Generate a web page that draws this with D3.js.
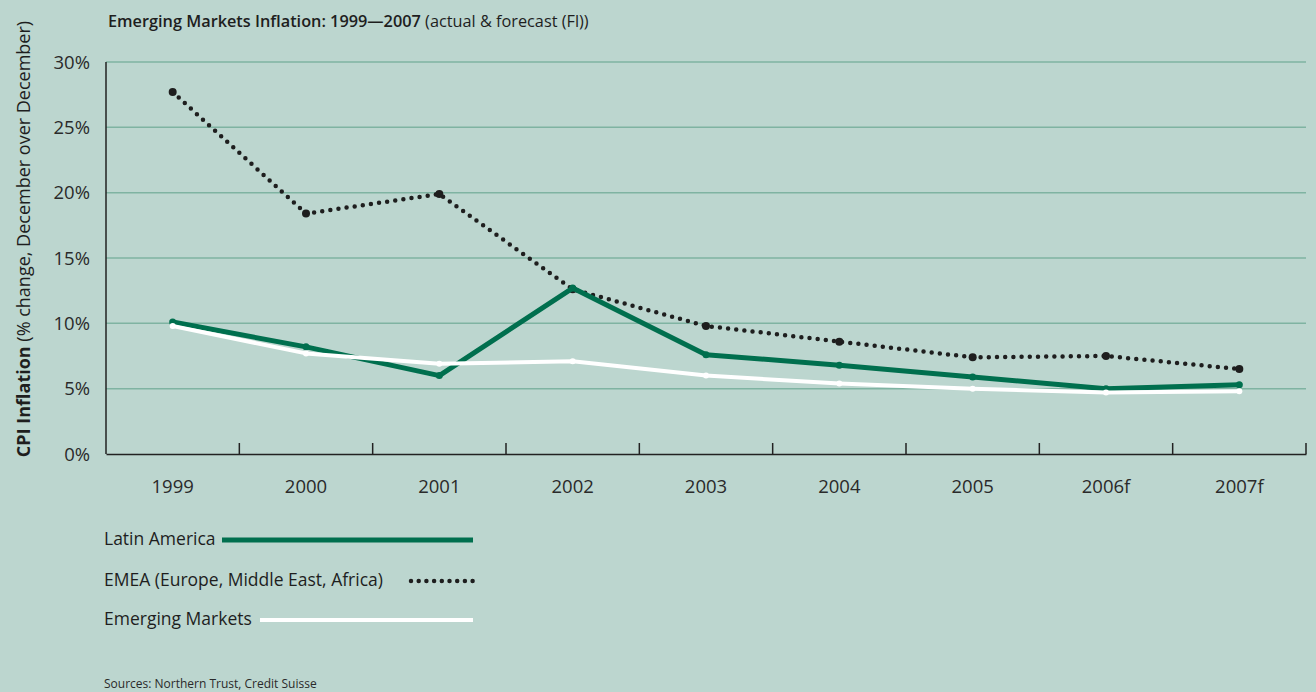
<!DOCTYPE html>
<html>
<head>
<meta charset="utf-8">
<script src="https://cdn.jsdelivr.net/npm/d3@7"></script>
<style>
  body { margin: 0; background: #bcd6cf; }
  svg { display: block; font-family: "Open Sans", sans-serif; }
</style>
</head>
<body>
<div id="chart"></div>
<script>
// data
const years = ["1999", "2000", "2001", "2002", "2003", "2004", "2005", "2006f", "2007f"];
const latinAmerica = [10.1, 8.2, 6.0, 12.7, 7.6, 6.8, 5.9, 5.0, 5.3];
const emea = [27.7, 18.4, 19.9, 12.6, 9.8, 8.6, 7.4, 7.5, 6.5];
const emergingMarkets = [9.8, 7.7, 6.9, 7.1, 6.0, 5.4, 5.0, 4.7, 4.8];
const yTicks = [0, 5, 10, 15, 20, 25, 30];

const width = 1316, height = 692;
const margin = {left: 106, right: 10, top: 62, bottom: 238};
const ink = "#1e1e1e";

let svg = d3.select("#chart")
  .append("svg")
  .attr("width", width)
  .attr("height", height);

svg.append("rect").attr("width", width).attr("height", height).attr("fill", "#bcd6cf");

let x = d3.scaleBand()
  .domain(years)
  .range([margin.left, width - margin.right]);

let y = d3.scaleLinear()
  .domain([0, 30])
  .range([height - margin.bottom, margin.top]);

// grid
svg.append("g")
  .selectAll("line")
  .data(yTicks.slice(1))
  .enter()
  .append("line")
  .attr("x1", margin.left)
  .attr("x2", width - margin.right)
  .attr("y1", d => y(d))
  .attr("y2", d => y(d))
  .attr("stroke", "#7fb3a2")
  .attr("stroke-width", 1.5);

// y labels
svg.append("g")
  .selectAll("text")
  .data(yTicks)
  .enter()
  .append("text")
  .attr("x", 90)
  .attr("y", d => y(d))
  .attr("dy", "0.36em")
  .attr("text-anchor", "end")
  .attr("font-size", 18.5)
  .attr("fill", "#2a2a2a")
  .text(d => d + "%");

// axes
svg.append("line")
  .attr("x1", margin.left).attr("x2", margin.left)
  .attr("y1", y(30)).attr("y2", y(0))
  .attr("stroke", "#222").attr("stroke-width", 1.5);

let xAxis = svg.append("g")
  .attr("transform", `translate(0,${y(0)})`)
  .call(d3.axisBottom(x).tickSize(0).tickPadding(26));
xAxis.select(".domain").attr("stroke", "#222").attr("stroke-width", 1.5);
xAxis.selectAll("text").attr("font-size", 18.5).attr("fill", "#2a2a2a").attr("font-family", "Open Sans, sans-serif");

// ticks between categories
let bounds = years.slice(1).map(d => x(d)).concat([x.range()[1]]);
svg.append("g")
  .selectAll("line")
  .data(bounds)
  .enter()
  .append("line")
  .attr("x1", d => d).attr("x2", d => d)
  .attr("y1", y(0)).attr("y2", y(0) - 11)
  .attr("stroke", "#222").attr("stroke-width", 1.5);

let cx = d => x(d) + x.bandwidth() / 2;
let line = d3.line()
  .x((d, i) => cx(years[i]))
  .y(d => y(d));

// EMEA dotted
svg.append("path")
  .datum(emea)
  .attr("d", line)
  .attr("fill", "none")
  .attr("stroke", ink)
  .attr("stroke-width", 4.5)
  .attr("stroke-linecap", "round")
  .attr("stroke-dasharray", "0 8.2");
svg.append("g").selectAll("circle")
  .data(emea).enter().append("circle")
  .attr("cx", (d, i) => cx(years[i])).attr("cy", d => y(d))
  .attr("r", 4).attr("fill", ink);

// Latin America
svg.append("path")
  .datum(latinAmerica)
  .attr("d", line)
  .attr("fill", "none")
  .attr("stroke", "#006f4e")
  .attr("stroke-width", 5)
  .attr("stroke-linejoin", "round");
svg.append("g").selectAll("circle")
  .data(latinAmerica).enter().append("circle")
  .attr("cx", (d, i) => cx(years[i])).attr("cy", d => y(d))
  .attr("r", 3.5).attr("fill", "#006f4e");

// Emerging Markets
svg.append("path")
  .datum(emergingMarkets)
  .attr("d", line)
  .attr("fill", "none")
  .attr("stroke", "#ffffff")
  .attr("stroke-width", 4)
  .attr("stroke-linejoin", "round");
svg.append("g").selectAll("circle")
  .data(emergingMarkets).enter().append("circle")
  .attr("cx", (d, i) => cx(years[i])).attr("cy", d => y(d))
  .attr("r", 3).attr("fill", "#ffffff");

// title
let title = svg.append("text")
  .attr("x", 108).attr("y", 27)
  .attr("font-size", 16.3)
  .attr("fill", ink);
title.append("tspan").attr("font-weight", "600").text("Emerging Markets Inflation: 1999\u20142007 ");
title.append("tspan").text("(actual & forecast (Fl))");

// y title
let ytitle = svg.append("text")
  .attr("transform", "translate(30,239) rotate(-90)")
  .attr("text-anchor", "middle")
  .attr("font-size", 18)
  .attr("fill", ink);
ytitle.append("tspan").attr("font-weight", "bold").text("CPI Inflation ");
ytitle.append("tspan").text("(% change, December over December)");

// legend
let legend = [
  {name: "Latin America", y: 540, x1: 222},
  {name: "EMEA (Europe, Middle East, Africa)", y: 581, x1: 411},
  {name: "Emerging Markets", y: 620, x1: 260}
];
legend.forEach(function (l, i) {
  svg.append("text")
    .attr("x", 104).attr("y", l.y - 1).attr("dy", "0.36em")
    .attr("font-size", 17.5).attr("fill", ink)
    .text(l.name);
  let ln = svg.append("line")
    .attr("x1", l.x1).attr("x2", 473)
    .attr("y1", l.y).attr("y2", l.y);
  if (i === 0) ln.attr("stroke", "#006f4e").attr("stroke-width", 5);
  if (i === 1) ln.attr("stroke", ink).attr("stroke-width", 4.5)
    .attr("stroke-linecap", "round").attr("stroke-dasharray", "0 7.7");
  if (i === 2) ln.attr("stroke", "#fff").attr("stroke-width", 4);
});

svg.append("text")
  .attr("x", 104).attr("y", 688)
  .attr("font-size", 12).attr("fill", "#2a2a2a")
  .text("Sources: Northern Trust, Credit Suisse");
</script>
</body>
</html>
